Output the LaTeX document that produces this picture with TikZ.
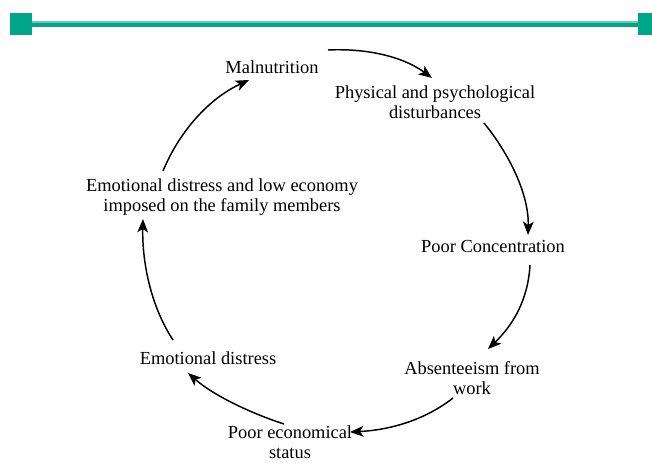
\documentclass[tikz,border=0pt]{standalone}
\usepackage{fontspec}
\setmainfont{Liberation Serif}
\usetikzlibrary{arrows.meta}
\definecolor{teal}{RGB}{0,166,138}
\definecolor{teallight}{RGB}{110,200,182}
\begin{document}
\begin{tikzpicture}[x=0.75pt,y=-0.75pt,
  lbl/.style={align=center,inner sep=0pt,font=\fontsize{13.8}{15}\selectfont},
  cyc/.style={line width=1.1pt,-{Stealth[length=10pt,width=8pt,inset=2.5pt]}}]
\useasboundingbox (0,0) rectangle (652,464);
% top bar
\fill[teal] (32,21) rectangle (638,27);
\fill[teallight] (32,21) rectangle (638,22.5);
\fill[teal] (10,13) rectangle (32,35);
\fill[teal] (638,13) rectangle (660,35);
% nodes
\node[lbl] (mal) at (272,67) {Malnutrition};
\node[lbl] (phy) at (435,102) {Physical and psychological\\disturbances};
\node[lbl] (con) at (493,246) {Poor Concentration};
\node[lbl] (abs) at (472,378) {Absenteeism from\\work};
\node[lbl] (eco) at (290,442) {Poor economical\\status};
\node[lbl] (emo) at (208,358) {Emotional distress};
\node[lbl] (fam) at (222,197) {Emotional distress and low economy\\imposed on the family members};
% connector ends
\coordinate (a1) at (328,50);  \coordinate (b1) at (432,78);
\coordinate (a2) at (484,123); \coordinate (b2) at (528,235);
\coordinate (a3) at (530,265); \coordinate (b3) at (488,349);
\coordinate (a4) at (453,398); \coordinate (b4) at (350,432);
\coordinate (a5) at (284,424); \coordinate (b5) at (188,373);
\coordinate (a6) at (173,340); \coordinate (b6) at (143,219);
\coordinate (a7) at (163,171); \coordinate (b7) at (249,80);
\draw[cyc] (a1) .. controls (370,48) and (405,58) .. (b1);
\draw[cyc] (a2) .. controls (510,155) and (529,195) .. (b2);
\draw[cyc] (a3) .. controls (528,300) and (513,325) .. (b3);
\draw[cyc] (a4) .. controls (425,420) and (390,430) .. (b4);
\draw[cyc] (a5) .. controls (250,413) and (213,395) .. (b5);
\draw[cyc] (a6) .. controls (150,305) and (142,260) .. (b6);
\draw[cyc] (a7) .. controls (180,130) and (210,98) .. (b7);
\end{tikzpicture}
\end{document}
